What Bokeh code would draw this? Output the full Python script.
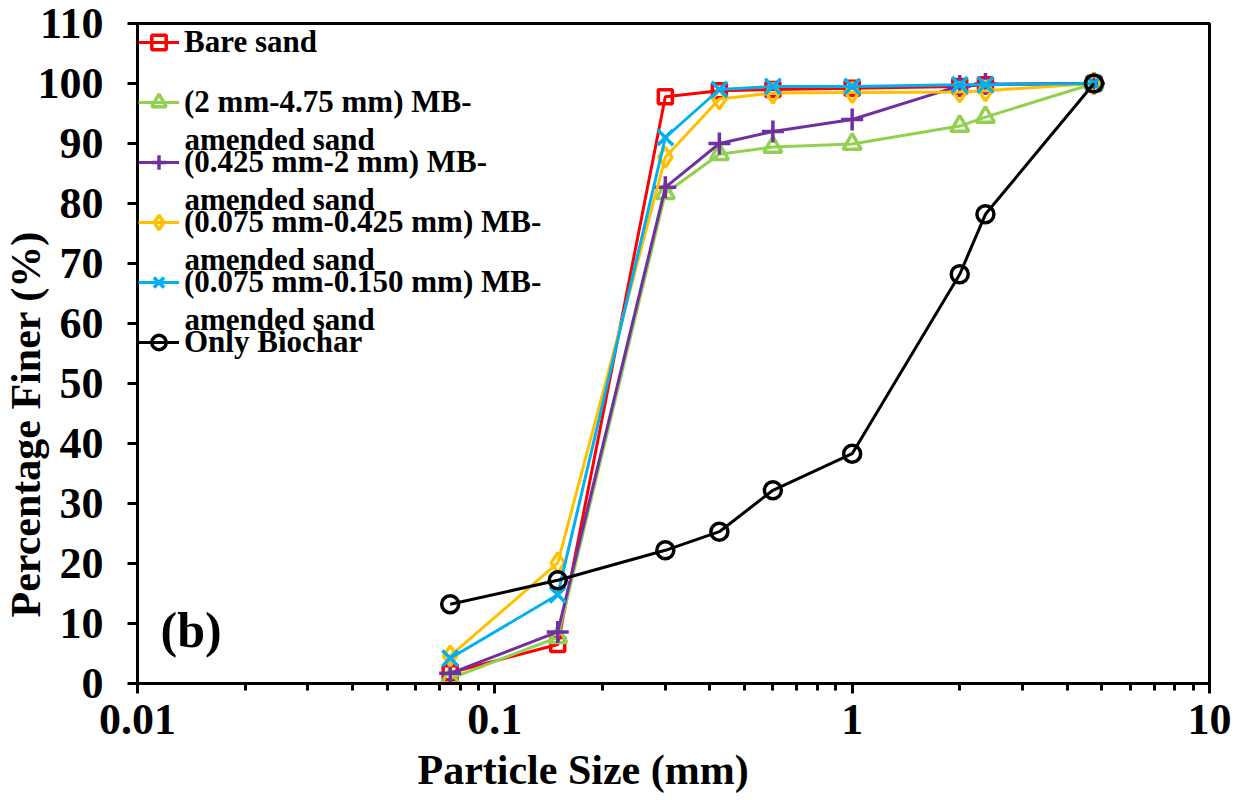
from bokeh.plotting import figure
from bokeh.models import (Legend, LegendItem, Label, LogTicker, FixedTicker,
                          CustomJSTickFormatter, Range1d, Title)
from bokeh.embed import file_html
from bokeh.resources import INLINE

# Sieve sizes (mm) and cumulative percentage finer for each sample
sizes = [0.075, 0.15, 0.3, 0.425, 0.6, 1.0, 2.0, 2.36, 4.75]
bare_sand = [1.8, 6.5, 97.8, 98.8, 99.0, 99.2, 99.5, 99.8, 100.0]
mb_2_475 = [0.8, 7.7, 81.7, 88.2, 89.4, 89.9, 92.9, 94.4, 100.0]
mb_0425_2 = [1.7, 8.6, 82.7, 90.0, 92.0, 94.0, 99.6, 99.9, 100.0]
mb_0075_0425 = [4.6, 20.1, 87.7, 97.4, 98.4, 98.5, 98.6, 98.8, 100.0]
mb_0075_015 = [4.2, 14.8, 91.0, 99.0, 99.5, 99.5, 99.8, 99.8, 100.0]
only_biochar = [13.2, 17.2, 22.2, 25.3, 32.2, 38.3, 68.2, 78.2, 100.0]

y_ticks = [0, 10, 20, 30, 40, 50, 60, 70, 80, 90, 100, 110]

FONT = "Liberation Serif"

p = figure(width=1246, height=800, x_axis_type="log",
           x_range=Range1d(0.01, 10), y_range=Range1d(0, 110),
           output_backend="svg", toolbar_location=None,
           min_border_left=137, min_border_right=37,
           min_border_top=23, min_border_bottom=117)
p.background_fill_color = "white"
p.border_fill_color = "white"
p.outline_line_color = "black"
p.outline_line_width = 3
p.grid.visible = False

# X axis: log scale with decade labels and minor ticks at 2..9
xa = p.xaxis[0]
xa.ticker = LogTicker(num_minor_ticks=10)
xa.formatter = CustomJSTickFormatter(code="return parseFloat(tick.toPrecision(6)).toString();")
xa.major_label_text_font = FONT
xa.major_label_text_font_style = "bold"
xa.major_label_text_font_size = "44px"
xa.major_label_text_color = "black"
xa.major_label_standoff = 11
xa.axis_line_width = 3
xa.axis_line_color = "black"
xa.major_tick_line_width = 3
xa.minor_tick_line_width = 3
xa.major_tick_line_color = "black"
xa.minor_tick_line_color = "black"
xa.major_tick_in = 0
xa.major_tick_out = 10
xa.minor_tick_in = 0
xa.minor_tick_out = 7

# Y axis
ya = p.yaxis[0]
ya.ticker = FixedTicker(ticks=y_ticks)
ya.major_label_text_font = FONT
ya.major_label_text_font_style = "bold"
ya.major_label_text_font_size = "44px"
ya.major_label_text_color = "black"
ya.major_label_standoff = 24
ya.axis_line_width = 3
ya.axis_line_color = "black"
ya.major_tick_line_width = 3
ya.major_tick_line_color = "black"
ya.major_tick_in = 0
ya.major_tick_out = 10
ya.minor_tick_line_color = None

# Axis titles
p.add_layout(Title(text="Particle Size (mm)", align="left", offset=280,
                   text_font=FONT, text_font_style="bold",
                   text_font_size="42px", text_color="black",
                   standoff=16), "below")
p.add_layout(Title(text="Percentage Finer (%)", align="left", offset=66,
                   text_font=FONT, text_font_style="bold",
                   text_font_size="42px", text_color="black",
                   standoff=-28), "left")

series = [
    ("Bare sand", bare_sand, "#FF0000", "square", 14),
    ("(2 mm-4.75 mm) MB-", mb_2_475, "#92D050", "triangle", 18),
    ("(0.425 mm-2 mm) MB-", mb_0425_2, "#7030A0", "cross", 22),
    ("(0.075 mm-0.425 mm) MB-", mb_0075_0425, "#FFC000", "diamond", 20),
    ("(0.075 mm-0.150 mm) MB-", mb_0075_015, "#00B0F0", "x", 22),
    ("Only Biochar", only_biochar, "#000000", "circle", 17),
]

items = []
for label, vals, color, marker, size in series:
    ln = p.line(sizes, vals, line_color=color, line_width=3)
    sc = p.scatter(sizes, vals, marker=marker, size=size, line_color=color,
                   fill_color=None, line_width=3.5)
    items.append(LegendItem(label=label, renderers=[ln, sc]))

legend = Legend(items=items, location="top_left", margin=0, padding=1,
                spacing=24, glyph_width=41, glyph_height=36, label_standoff=5,
                label_text_font=FONT, label_text_font_style="bold",
                label_text_font_size="31px", label_text_color="black",
                background_fill_alpha=0, border_line_alpha=0)
p.add_layout(legend)

# Second lines of the wrapped legend entries
cont_x = 0.01353
for cont_y in [90.75, 80.75, 70.75, 60.75]:
    p.add_layout(Label(x=cont_x, y=cont_y, text="amended sand",
                       text_font=FONT, text_font_style="bold",
                       text_font_size="31px", text_color="black",
                       text_baseline="middle", text_align="left"))

# Panel tag
p.add_layout(Label(x=0.0116, y=4.2, text="(b)", text_font=FONT,
                   text_font_style="bold", text_font_size="50px",
                   text_color="black", text_baseline="bottom",
                   text_align="left"))

open("out.html", "w").write(file_html(p, INLINE))
